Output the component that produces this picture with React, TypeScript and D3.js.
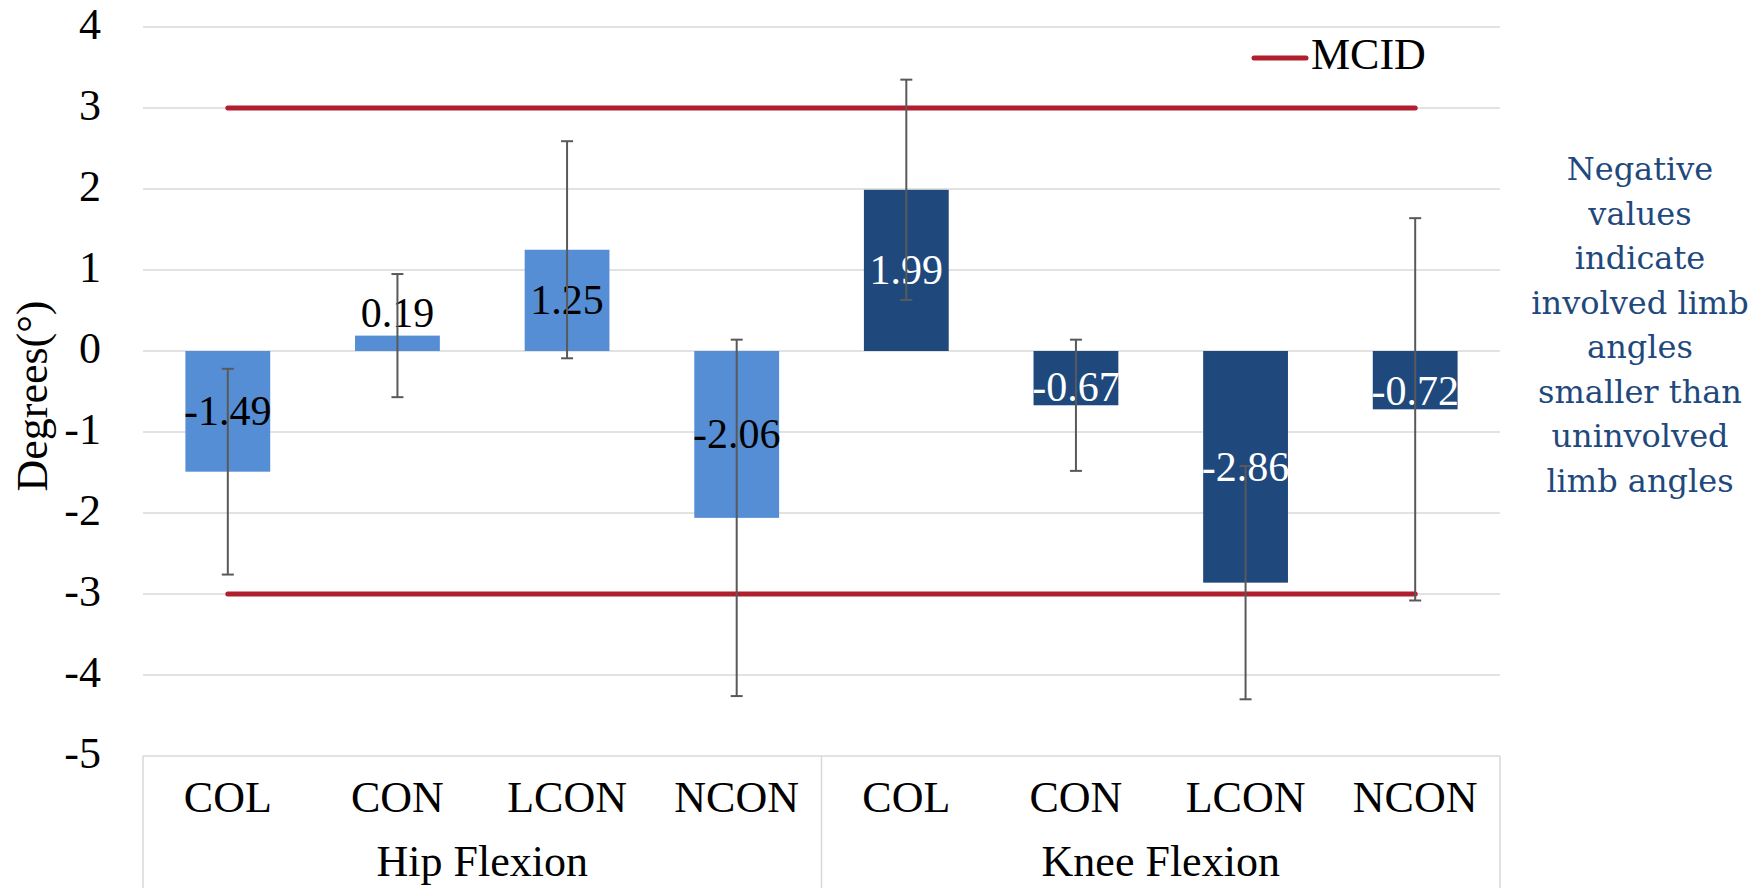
import React from "react";
import * as d3 from "d3";

const groups = ["Hip Flexion", "Knee Flexion"];
const categories = ["COL", "CON", "LCON", "NCON"];
const hipMeans = [-1.49, 0.19, 1.25, -2.06];
const kneeMeans = [1.99, -0.67, -2.86, -0.72];
const hipErr = [1.27, 0.76, 1.34, 2.2];
const kneeErr = [1.36, 0.81, 1.44, 2.36];
const mcidLevels = [3, -3];
const yTicks = [-5, -4, -3, -2, -1, 0, 1, 2, 3, 4];
const noteLines = [
  "Negative",
  "values",
  "indicate",
  "involved limb",
  "angles",
  "smaller than",
  "uninvolved",
  "limb angles",
];

const W = 1764;
const H = 888;
const plotL = 143;
const plotR = 1500;
const plotT = 27;
const plotB = 756;

const hipColor = "#558ED5";
const kneeColor = "#1F497D";
const mcidColor = "#B01F2E";
const gridColor = "#D9D9D9";
const errColor = "#595959";
const serif = "'Liberation Serif', 'Times New Roman', serif";

type Row = { key: string; group: number; cat: string; v: number; e: number };

export default function App() {
  const rows: Row[] = [];
  groups.forEach((g, gi) => {
    const means = gi === 0 ? hipMeans : kneeMeans;
    const errs = gi === 0 ? hipErr : kneeErr;
    categories.forEach((c, ci) => {
      rows.push({ key: `${gi}-${c}`, group: gi, cat: c, v: means[ci], e: errs[ci] });
    });
  });

  const x = d3
    .scaleBand<string>()
    .domain(rows.map((r) => r.key))
    .range([plotL, plotR])
    .paddingInner(0.5)
    .paddingOuter(0.25);
  const step = x.step();
  const y = d3.scaleLinear().domain([-5, 4]).range([plotB, plotT]);
  const cx = (k: string) => (x(k) as number) + x.bandwidth() / 2;

  const firstC = cx(rows[0].key);
  const lastC = cx(rows[rows.length - 1].key);
  const groupEdges = groups.map((_, gi) => plotL + gi * 4 * step);

  const labelY = (v: number) => {
    const h = Math.abs(y(v) - y(0));
    if (h >= 80) return (y(v) + y(0)) / 2 + 14;
    if (v < 0) return y(v) - 4;
    return y(v) - 9;
  };

  return (
    <svg
      width={W}
      height={H}
      style={{ position: "absolute", left: 0, top: 0, background: "#fff" }}
    >
      {/* gridlines */}
      {yTicks.map((t) => (
        <line
          key={`g${t}`}
          x1={plotL}
          x2={plotR}
          y1={y(t)}
          y2={y(t)}
          stroke={gridColor}
          strokeWidth={1.5}
        />
      ))}
      {/* category axis box */}
      {[...groupEdges, plotR].map((gx, i) => (
        <line key={`v${i}`} x1={gx} x2={gx} y1={plotB} y2={H} stroke={gridColor} strokeWidth={1.5} />
      ))}
      {/* tick labels */}
      {yTicks.map((t) => (
        <text
          key={`t${t}`}
          x={101}
          y={y(t) + 12}
          textAnchor="end"
          fontFamily={serif}
          fontSize={44}
          fill="#000"
        >
          {t}
        </text>
      ))}
      {/* y title */}
      <text
        transform={`translate(47,396) rotate(-90)`}
        textAnchor="middle"
        fontFamily={serif}
        fontSize={44}
        fill="#000"
      >
        Degrees(°)
      </text>
      {/* bars */}
      {rows.map((r) => (
        <rect
          key={`b${r.key}`}
          x={x(r.key)}
          width={x.bandwidth()}
          y={Math.min(y(r.v), y(0))}
          height={Math.abs(y(r.v) - y(0))}
          fill={r.group === 0 ? hipColor : kneeColor}
        />
      ))}
      {/* MCID lines */}
      {mcidLevels.map((m) => (
        <line
          key={`m${m}`}
          x1={firstC}
          x2={lastC}
          y1={y(m)}
          y2={y(m)}
          stroke={mcidColor}
          strokeWidth={5}
          strokeLinecap="round"
        />
      ))}
      {/* data labels */}
      {rows.map((r) => (
        <text
          key={`l${r.key}`}
          x={cx(r.key)}
          y={labelY(r.v)}
          textAnchor="middle"
          fontFamily={serif}
          fontSize={42}
          fill={r.group === 0 ? "#000" : "#fff"}
        >
          {r.v.toFixed(2)}
        </text>
      ))}
      {/* error bars */}
      {rows.map((r) => {
        const c = cx(r.key);
        const y1 = y(r.v + r.e);
        const y2 = y(r.v - r.e);
        return (
          <g key={`e${r.key}`} stroke={errColor} strokeWidth={2}>
            <line x1={c} x2={c} y1={y1} y2={y2} />
            <line x1={c - 6} x2={c + 6} y1={y1} y2={y1} />
            <line x1={c - 6} x2={c + 6} y1={y2} y2={y2} />
          </g>
        );
      })}
      {/* category labels */}
      {rows.map((r) => (
        <text
          key={`c${r.key}`}
          x={cx(r.key)}
          y={812}
          textAnchor="middle"
          fontFamily={serif}
          fontSize={44}
          fill="#000"
        >
          {r.cat}
        </text>
      ))}
      {/* group labels */}
      {groups.map((g, gi) => (
        <text
          key={`gr${gi}`}
          x={groupEdges[gi] + 2 * step}
          y={876}
          textAnchor="middle"
          fontFamily={serif}
          fontSize={44}
          fill="#000"
        >
          {g}
        </text>
      ))}
      {/* legend */}
      <line x1={1254} x2={1306} y1={58} y2={58} stroke={mcidColor} strokeWidth={5} strokeLinecap="round" />
      <text x={1311} y={69} fontFamily={serif} fontSize={44} fill="#000">
        MCID
      </text>
      {/* annotation */}
      {noteLines.map((ln, i) => (
        <text
          key={`n${i}`}
          x={1640}
          y={180 + i * 44.5}
          textAnchor="middle"
          fontFamily="'DejaVu Serif', serif"
          fontSize={32}
          fill={kneeColor}
        >
          {ln}
        </text>
      ))}
    </svg>
  );
}
